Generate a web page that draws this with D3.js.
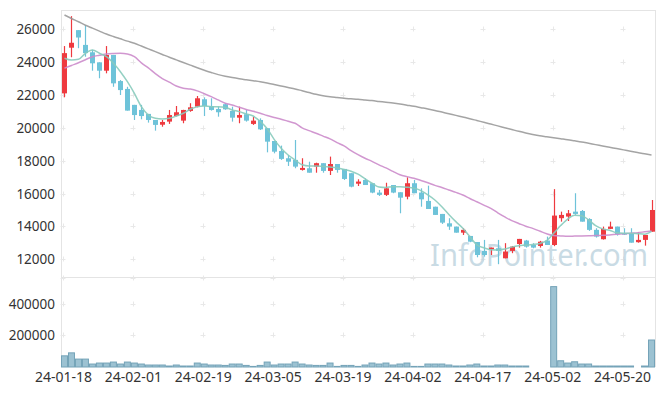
<!DOCTYPE html>
<html>
<head>
<meta charset="utf-8">
<script src="https://cdn.jsdelivr.net/npm/d3@7/dist/d3.min.js"></script>
<style>
body{margin:0;background:#fff}
svg{display:block}
text{font-family:"Noto Sans",sans-serif}
</style>
</head>
<body>
<svg id="chart" width="665" height="396"></svg>
<script>
// trading days 2024-01-18 .. 2024-05-24
var dates = ["24-01-18","24-01-19","24-01-22","24-01-23","24-01-24","24-01-25","24-01-26","24-01-29","24-01-30","24-01-31",
 "24-02-01","24-02-02","24-02-05","24-02-06","24-02-07","24-02-08","24-02-13","24-02-14","24-02-15","24-02-16",
 "24-02-19","24-02-20","24-02-21","24-02-22","24-02-23","24-02-26","24-02-27","24-02-28","24-02-29",
 "24-03-04","24-03-05","24-03-06","24-03-07","24-03-08","24-03-11","24-03-12","24-03-13","24-03-14","24-03-15",
 "24-03-18","24-03-19","24-03-20","24-03-21","24-03-22","24-03-25","24-03-26","24-03-27","24-03-28","24-03-29",
 "24-04-01","24-04-02","24-04-03","24-04-04","24-04-05","24-04-08","24-04-09","24-04-11","24-04-12","24-04-15",
 "24-04-16","24-04-17","24-04-18","24-04-19","24-04-22","24-04-23","24-04-24","24-04-25","24-04-26","24-04-29","24-04-30",
 "24-05-02","24-05-03","24-05-07","24-05-08","24-05-09","24-05-10","24-05-13","24-05-14","24-05-16","24-05-17",
 "24-05-20","24-05-21","24-05-22","24-05-23","24-05-24"];

var open = [22100,24880,25950,25050,24600,23990,23480,24440,22850,22370,
 21400,21090,20850,20480,20190,20380,20720,20440,21030,21290,
 21740,21330,21150,21440,21030,20620,20830,20240,20480,
 19980,19200,18590,18150,18050,17440,17540,17640,17850,17380,
 17800,17500,17240,16600,16830,16630,16060,15920,16520,16080,
 15810,16630,16060,15550,15200,14760,14190,13990,13620,13420,
 13050,12510,12610,12670,12060,12510,12930,13140,12870,12810,13140,
 12870,14500,14600,14900,14940,14450,13790,13220,13850,13990,
 13590,13590,13040,13180,13680];
var high = [24980,26800,25950,26250,24750,23990,24980,24440,22910,22500,
 21400,21400,20850,20480,20480,21090,21330,21100,21500,21940,
 21860,21800,21290,21500,21290,21290,21090,20680,20580,
 19980,19200,18920,18350,19260,18150,17940,17880,17850,18250,
 17800,17500,17240,16870,16930,16630,16220,16660,16520,16080,
 16990,16830,16320,16480,15200,14760,14500,13990,13890,13420,
 13050,13180,12710,13180,12980,12810,13240,13180,12980,13120,13380,
 16270,14900,15000,16020,15000,14500,13890,13990,14290,13990,
 13890,13890,13650,13480,15610];
var low = [21860,24300,24850,24330,23480,23020,23320,22500,22000,21050,
 20480,20520,20320,19830,20070,20240,20700,20280,20980,21250,
 20720,21050,20680,21100,20380,20280,20380,20180,19870,
 18510,18450,18050,17680,17540,17400,17270,17270,17270,17130,
 17270,16830,16380,16460,16520,16020,15850,15850,16020,14800,
 15650,16020,15200,15060,14700,14150,13790,13620,13480,13040,
 12120,12160,12260,11700,12060,12370,12710,12710,12670,12710,12870,
 12800,14290,14330,14700,14290,13730,13320,13200,13850,13440,
 13480,13010,13010,12830,13680];
var close = [24550,25180,25500,24550,23930,23480,24440,22710,22300,21050,
 20780,20720,20480,20180,20360,20780,20950,21090,21250,21800,
 21330,21090,20950,21130,20620,20780,20440,20440,19910,
 19160,18550,18110,17940,17640,17560,17270,17850,17380,17800,
 17440,16890,16420,16730,16520,16060,15920,16320,16060,15750,
 16630,16020,15650,15060,14700,14230,13990,13620,13790,13070,
 12260,12260,12710,12510,12470,12770,13240,12770,12710,13070,12870,
 14660,14700,14800,14760,14290,13790,13380,13850,13990,13520,
 13520,13010,13180,13480,15000];
var volume = [70600,89400,50000,50000,18750,25000,25000,31250,18750,31250,
 25000,18750,12500,12500,12500,6250,12500,6250,6250,25000,
 18750,12500,12500,10000,18750,18750,10000,3750,10000,
 31250,12500,18750,18750,31250,18750,12500,10000,10000,25000,
 3750,10000,10000,3750,12500,25000,18750,25000,12500,18750,
 25000,3750,3750,18750,18750,18750,12500,6250,6250,12500,
 18750,6250,6250,12500,12500,6250,6250,6250,0,0,0,
 508000,39400,25000,33000,18750,18750,6250,6250,6250,6250,
 6250,6250,0,6250,170600];
var ma5 = [24240,24130,24170,24540,24740,24540,24330,23930,23420,22810,
 22100,21290,20780,20580,20540,20580,20720,20890,21130,21290,
 21330,21290,21290,21250,21090,20990,20850,20720,20400,
 19950,19300,18760,18350,18050,17750,17680,17680,17650,17610,
 17560,17470,17360,17180,16900,16640,16400,16370,16420,16420,
 16390,16330,16180,15920,15610,15200,14730,14290,13890,13380,
 12880,12700,12580,12570,12620,12740,12820,12860,12900,12960,13130,
 13580,14050,14450,14680,14650,14400,14050,13850,13770,13620,
 13590,13585,13560,13530,13700];
var ma20 = [23630,23800,23960,24150,24330,24420,24500,24530,24540,24500,
 24330,23960,23650,23300,23000,22780,22550,22410,22360,22250,
 22080,21900,21700,21500,21390,21250,21120,21010,20890,
 20750,20630,20530,20400,20280,20000,19830,19670,19500,19330,
 19100,18900,18620,18370,18150,17960,17750,17560,17350,17150,
 17030,16930,16800,16660,16500,16370,16220,16070,15910,15700,
 15500,15300,15100,14830,14580,14350,14180,14010,13880,13720,13550,
 13440,13420,13400,13410,13420,13430,13440,13460,13480,13520,
 13550,13590,13620,13670,13720];
var ma60 = [26870,26660,26460,26250,26070,25890,25710,25560,25420,25280,
 25150,24980,24810,24640,24470,24300,24140,23980,23820,23660,
 23510,23370,23240,23140,23060,22990,22930,22870,22810,
 22730,22640,22550,22460,22370,22260,22150,22040,21960,21900,
 21850,21800,21770,21740,21700,21660,21610,21560,21510,21450,
 21380,21310,21230,21150,21060,20960,20860,20760,20660,20560,
 20450,20340,20230,20120,20010,19900,19790,19690,19600,19520,19460,
 19400,19340,19280,19210,19140,19060,18980,18900,18820,18740,
 18660,18580,18500,18420,18350];

var priceTicks = [12000,14000,16000,18000,20000,22000,24000,26000];
var volTicks = [200000,400000];
var xTickIdx = [0,10,20,30,40,50,60,70,80];

var svg = d3.select("#chart");
var left = 61, right = 655, pTop = 10, pBot = 278, vBot = 367;

var x = d3.scaleBand().domain(d3.range(dates.length)).range([left, right]).padding(0);
var cx = function(i){ return x(i) + x.bandwidth()/2; };
var y = d3.scaleLinear().domain([10860, 27175]).range([pBot, pTop]);
var yv = d3.scaleLinear().domain([0, 562500]).range([vBot, pBot]);

var gridCol = "#e4e4e4";
// frame
svg.append("line").attr("x1",left).attr("x2",right).attr("y1",pTop+0.5).attr("y2",pTop+0.5).attr("stroke",gridCol);
svg.append("line").attr("x1",left).attr("x2",right).attr("y1",pBot-0.5).attr("y2",pBot-0.5).attr("stroke",gridCol);
svg.append("line").attr("x1",left+0.5).attr("x2",left+0.5).attr("y1",pTop).attr("y2",vBot).attr("stroke",gridCol);
svg.append("line").attr("x1",right+0.5).attr("x2",right+0.5).attr("y1",pTop).attr("y2",vBot).attr("stroke",gridCol);

// small "+" grid markers
var rowsY = priceTicks.map(y).concat(volTicks.map(yv));
var colsX = xTickIdx.map(function(i){ return Math.round(cx(i)) - 1; });
var cg = svg.append("g").attr("stroke","#e8e8e8").attr("stroke-width",1);
colsX.forEach(function(px){
  rowsY.concat([pBot]).forEach(function(py){
    py = Math.round(py);
    cg.append("line").attr("x1",px-2.5).attr("x2",px+2.5).attr("y1",py+0.5).attr("y2",py+0.5);
    cg.append("line").attr("x1",px+0.5).attr("x2",px+0.5).attr("y1",py-2.5).attr("y2",py+2.5);
  });
});

// watermark
svg.append("text").attr("x",430).attr("y",266).attr("font-size",31)
  .attr("textLength",218).attr("lengthAdjust","spacingAndGlyphs")
  .attr("fill","#b8d0dc").attr("fill-opacity",0.75).text("InfoPointer.com");

// axis labels
svg.selectAll(".py").data(priceTicks).enter().append("text")
  .attr("x",55).attr("y",function(d){ return y(d)+5; }).attr("text-anchor","end")
  .attr("font-size",13.5).attr("fill","#333").text(function(d){ return d; });
svg.selectAll(".vy").data(volTicks).enter().append("text")
  .attr("x",55).attr("y",function(d){ return yv(d)+5; }).attr("text-anchor","end")
  .attr("font-size",13.5).attr("fill","#333").text(function(d){ return d; });
svg.selectAll(".xl").data(xTickIdx).enter().append("text")
  .attr("x",function(i){ return cx(i) - 1; }).attr("y",382).attr("text-anchor","middle")
  .attr("font-size",14).attr("fill","#333").text(function(i){ return dates[i]; });

// volume bars
var bw = x.bandwidth();
var vg = svg.append("g");
volume.forEach(function(v,i){
  if (v <= 0) return;
  var top = yv(v);
  vg.append("rect").attr("x",x(i)+0.5).attr("y",top)
    .attr("width",bw-1).attr("height",Math.max(vBot-top,0.5))
    .attr("fill","#9cc2d2").attr("stroke","#74a3b8").attr("stroke-width",1);
});

// candles
var up = "#ee3a3f", down = "#6ec3d9";
var kg = svg.append("g");
var candles = kg.selectAll("g").data(d3.range(dates.length)).enter().append("g");
candles.append("line")
  .attr("x1",function(i){ return Math.round(cx(i))+0.5; })
  .attr("x2",function(i){ return Math.round(cx(i))+0.5; })
  .attr("y1",function(i){ return y(high[i]); })
  .attr("y2",function(i){ return y(low[i]); })
  .attr("stroke",function(i){ return close[i] >= open[i] ? up : down; })
  .attr("stroke-width",1.2);
candles.append("rect")
  .attr("x",function(i){ return Math.round(cx(i)) - 2; })
  .attr("width",5)
  .attr("y",function(i){ return y(Math.max(open[i],close[i])); })
  .attr("height",function(i){ return Math.max(Math.abs(y(open[i])-y(close[i])),1.5); })
  .attr("fill",function(i){ return close[i] >= open[i] ? up : down; });

// moving averages
function maLine(arr, col){
  var line = d3.line().x(function(d,i){ return cx(i); }).y(function(d){ return y(d); }).curve(d3.curveMonotoneX);
  svg.append("path").datum(arr).attr("d",line).attr("fill","none")
    .attr("stroke",col).attr("stroke-width",1.5).attr("stroke-opacity",0.9);
}
maLine(ma60, "#9a9a9a");
maLine(ma20, "#cc8ccb");
maLine(ma5, "#88cbbd");
</script>
</body>
</html>
